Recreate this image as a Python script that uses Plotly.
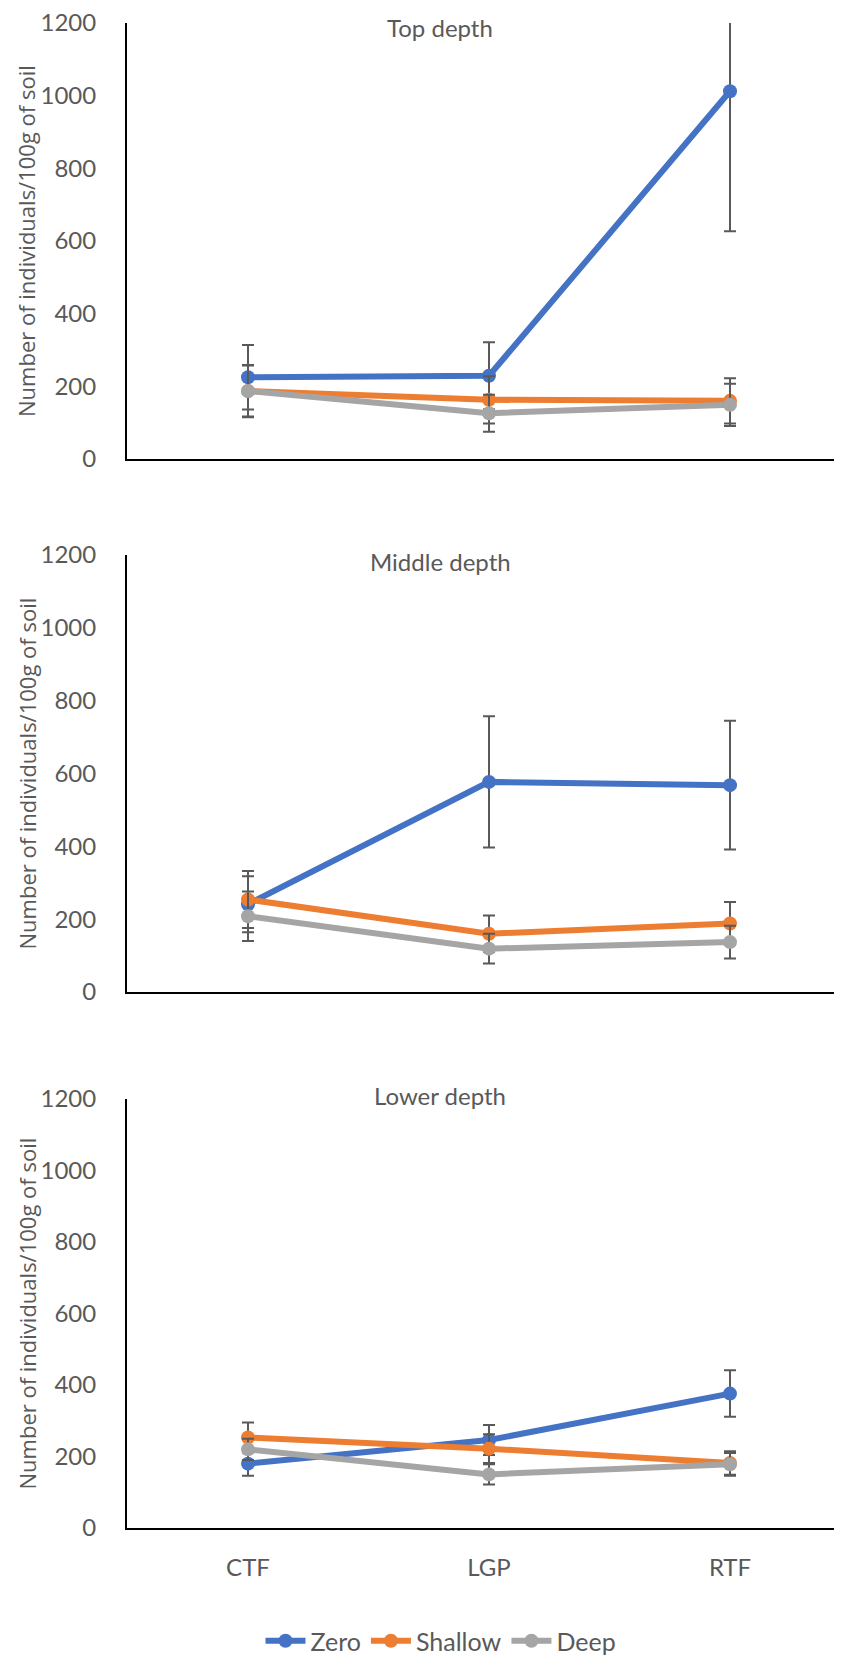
import plotly.graph_objects as go

categories = ["CTF", "LGP", "RTF"]
series_names = ["Zero", "Shallow", "Deep"]
colors = ["#4472C4", "#ED7D31", "#A5A5A5"]

# Top depth
top_zero = [225, 229, 1012]
top_zero_err = [89, 92, 385]
top_shallow = [187, 163, 160]
top_shallow_err = [70, 65, 62]
top_deep = [187, 126, 149]
top_deep_err = [72, 51, 58]

# Middle depth
mid_zero = [241, 577, 568]
mid_zero_err = [77, 180, 177]
mid_shallow = [254, 160, 188]
mid_shallow_err = [78, 50, 59]
mid_deep = [208, 119, 137]
mid_deep_err = [68, 41, 45]

# Lower depth
low_zero = [180, 246, 376]
low_zero_err = [34, 42, 65]
low_shallow = [253, 222, 182]
low_shallow_err = [42, 40, 33]
low_deep = [220, 150, 178]
low_deep_err = [30, 28, 32]

panel_titles = ["Top depth", "Middle depth", "Lower depth"]
y_title = "Number of individuals/100g of soil"
y_ticks = [0, 200, 400, 600, 800, 1000, 1200]

panels = [
    [(top_zero, top_zero_err), (top_shallow, top_shallow_err), (top_deep, top_deep_err)],
    [(mid_zero, mid_zero_err), (mid_shallow, mid_shallow_err), (mid_deep, mid_deep_err)],
    [(low_zero, low_zero_err), (low_shallow, low_shallow_err), (low_deep, low_deep_err)],
]

OFF = 8  # default body margin of the html page
W, H = 842 - OFF, 1656 - OFF
ML = 127 - OFF
PW = W - ML

def py(p):  # page pixel -> paper y
    return 1 - (p - OFF) / H

def px(p):  # page pixel -> paper x
    return (p - OFF - ML) / PW

# page pixel extents (top of 1200, bottom at 0) for each panel
extents = [(23, 459), (555, 992), (1099, 1528)]

# category positions on page: 248, 489, 730
step = 241 / PW
x_lo = -px(248) / step
x_hi = x_lo + 1 / step

fig = go.Figure()
TEXT = "#595959"

for i, panel in enumerate(panels):
    suffix = "" if i == 0 else str(i + 1)
    for j, (vals, errs) in enumerate(panel):
        fig.add_trace(go.Scatter(
            x=categories, y=vals,
            name=series_names[j],
            mode="lines+markers",
            line=dict(color=colors[j], width=6),
            marker=dict(color=colors[j], size=14),
            error_y=dict(type="data", array=errs, visible=True,
                         color="#595959", thickness=2, width=6),
            xaxis="x" + suffix, yaxis="y" + suffix,
            showlegend=(i == 0),
            legendgroup=series_names[j],
        ))

layout = dict(
    width=W, height=H,
    margin=dict(l=ML, r=0, t=0, b=0, autoexpand=False),
    paper_bgcolor="white", plot_bgcolor="white",
    font=dict(family="Lato", color=TEXT, size=24),
    legend=dict(orientation="h", x=px(441), xanchor="center",
                y=py(1641), yanchor="middle",
                font=dict(family="Lato", size=25, color=TEXT),
                itemwidth=40, tracegroupgap=0),
    annotations=[],
)

for i in range(3):
    suffix = "" if i == 0 else str(i + 1)
    top, bot = extents[i]
    layout["xaxis" + suffix] = dict(
        domain=[0, 1], anchor="y" + suffix,
        type="category", categoryorder="array", categoryarray=categories,
        range=[x_lo, x_hi],
        showline=True, linecolor="#000000", linewidth=2,
        showgrid=False, zeroline=False, ticks="",
        showticklabels=(i == 2),
        tickfont=dict(family="Lato", size=24, color=TEXT),
        ticklabelstandoff=17,
        fixedrange=True,
    )
    layout["yaxis" + suffix] = dict(
        domain=[py(bot), py(top)], anchor="x" + suffix,
        range=[0, 1200], tickvals=y_ticks,
        showline=True, linecolor="#000000", linewidth=2,
        showgrid=False, zeroline=False, ticks="",
        tickfont=dict(family="Lato", size=24, color=TEXT),
        ticklabelstandoff=24, ticklabeloverflow="allow",
        fixedrange=True,
    )
    layout["annotations"].append(dict(
        text=panel_titles[i], xref="paper", yref="paper",
        x=px(440), y=py([28, 561, 1095][i]), xanchor="center", yanchor="middle",
        showarrow=False, font=dict(family="Lato", size=24, color=TEXT),
    ))
    layout["annotations"].append(dict(
        text=y_title, xref="paper", yref="paper",
        x=px(26), y=py((top + bot) / 2), xanchor="center", yanchor="middle",
        textangle=-90, showarrow=False,
        font=dict(family="Open Sans", size=22, color=TEXT),
    ))

fig.update_layout(**layout)
fig.write_html("out.html")
